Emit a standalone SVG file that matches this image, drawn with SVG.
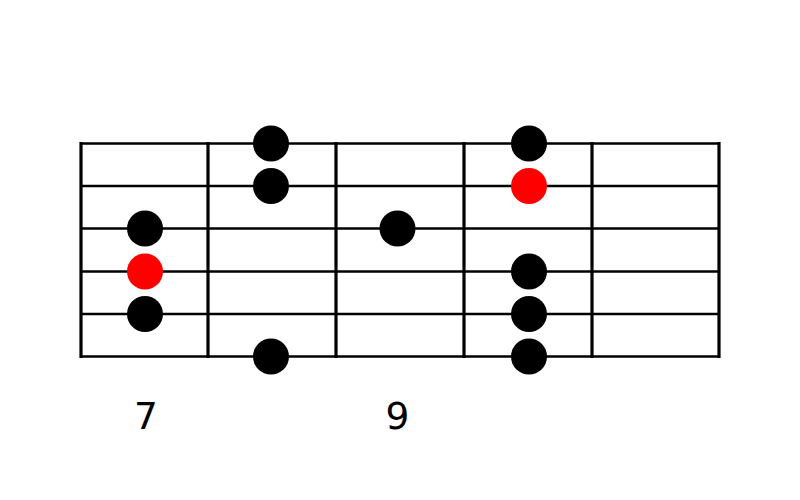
<svg xmlns="http://www.w3.org/2000/svg" width="800" height="500" viewBox="0 0 800 500">
<style>
.str{stroke:#000;stroke-width:2.5;fill:none}
.fret{stroke:#000;stroke-width:3.2;fill:none}
.dot{fill:#000}
.root{fill:#f00}
.lbl{font-family:"DejaVu Sans","Liberation Sans",sans-serif;font-size:37.5px;fill:#000;text-anchor:middle}
</style>
<rect width="800" height="500" fill="#fff"/>
<g id="fretboard">
<line class="str" x1="80" y1="143.5" x2="720" y2="143.5"/>
<line class="str" x1="80" y1="186" x2="720" y2="186"/>
<line class="str" x1="80" y1="228.5" x2="720" y2="228.5"/>
<line class="str" x1="80" y1="271.5" x2="720" y2="271.5"/>
<line class="str" x1="80" y1="314" x2="720" y2="314"/>
<line class="str" x1="80" y1="356.5" x2="720" y2="356.5"/>
<line class="fret" x1="81" y1="142" x2="81" y2="358"/>
<line class="fret" x1="208" y1="142" x2="208" y2="358"/>
<line class="fret" x1="336" y1="142" x2="336" y2="358"/>
<line class="fret" x1="464" y1="142" x2="464" y2="358"/>
<line class="fret" x1="592" y1="142" x2="592" y2="358"/>
<line class="fret" x1="719" y1="142" x2="719" y2="358"/>
</g>
<g id="dots">
<circle class="dot" cx="145" cy="228.5" r="18"/>
<circle class="root" cx="145" cy="271.5" r="18"/>
<circle class="dot" cx="145" cy="314" r="18"/>
<circle class="dot" cx="271" cy="143.5" r="18"/>
<circle class="dot" cx="271" cy="186" r="18"/>
<circle class="dot" cx="271" cy="356.5" r="18"/>
<circle class="dot" cx="397.5" cy="228.5" r="18"/>
<circle class="dot" cx="529" cy="143.5" r="18"/>
<circle class="root" cx="529" cy="186" r="18"/>
<circle class="dot" cx="529" cy="271.5" r="18"/>
<circle class="dot" cx="529" cy="314" r="18"/>
<circle class="dot" cx="529" cy="356.5" r="18"/>
</g>
<g id="labels">
<text class="lbl" x="146" y="429">7</text>
<text class="lbl" x="397.5" y="429">9</text>
</g>
</svg>
